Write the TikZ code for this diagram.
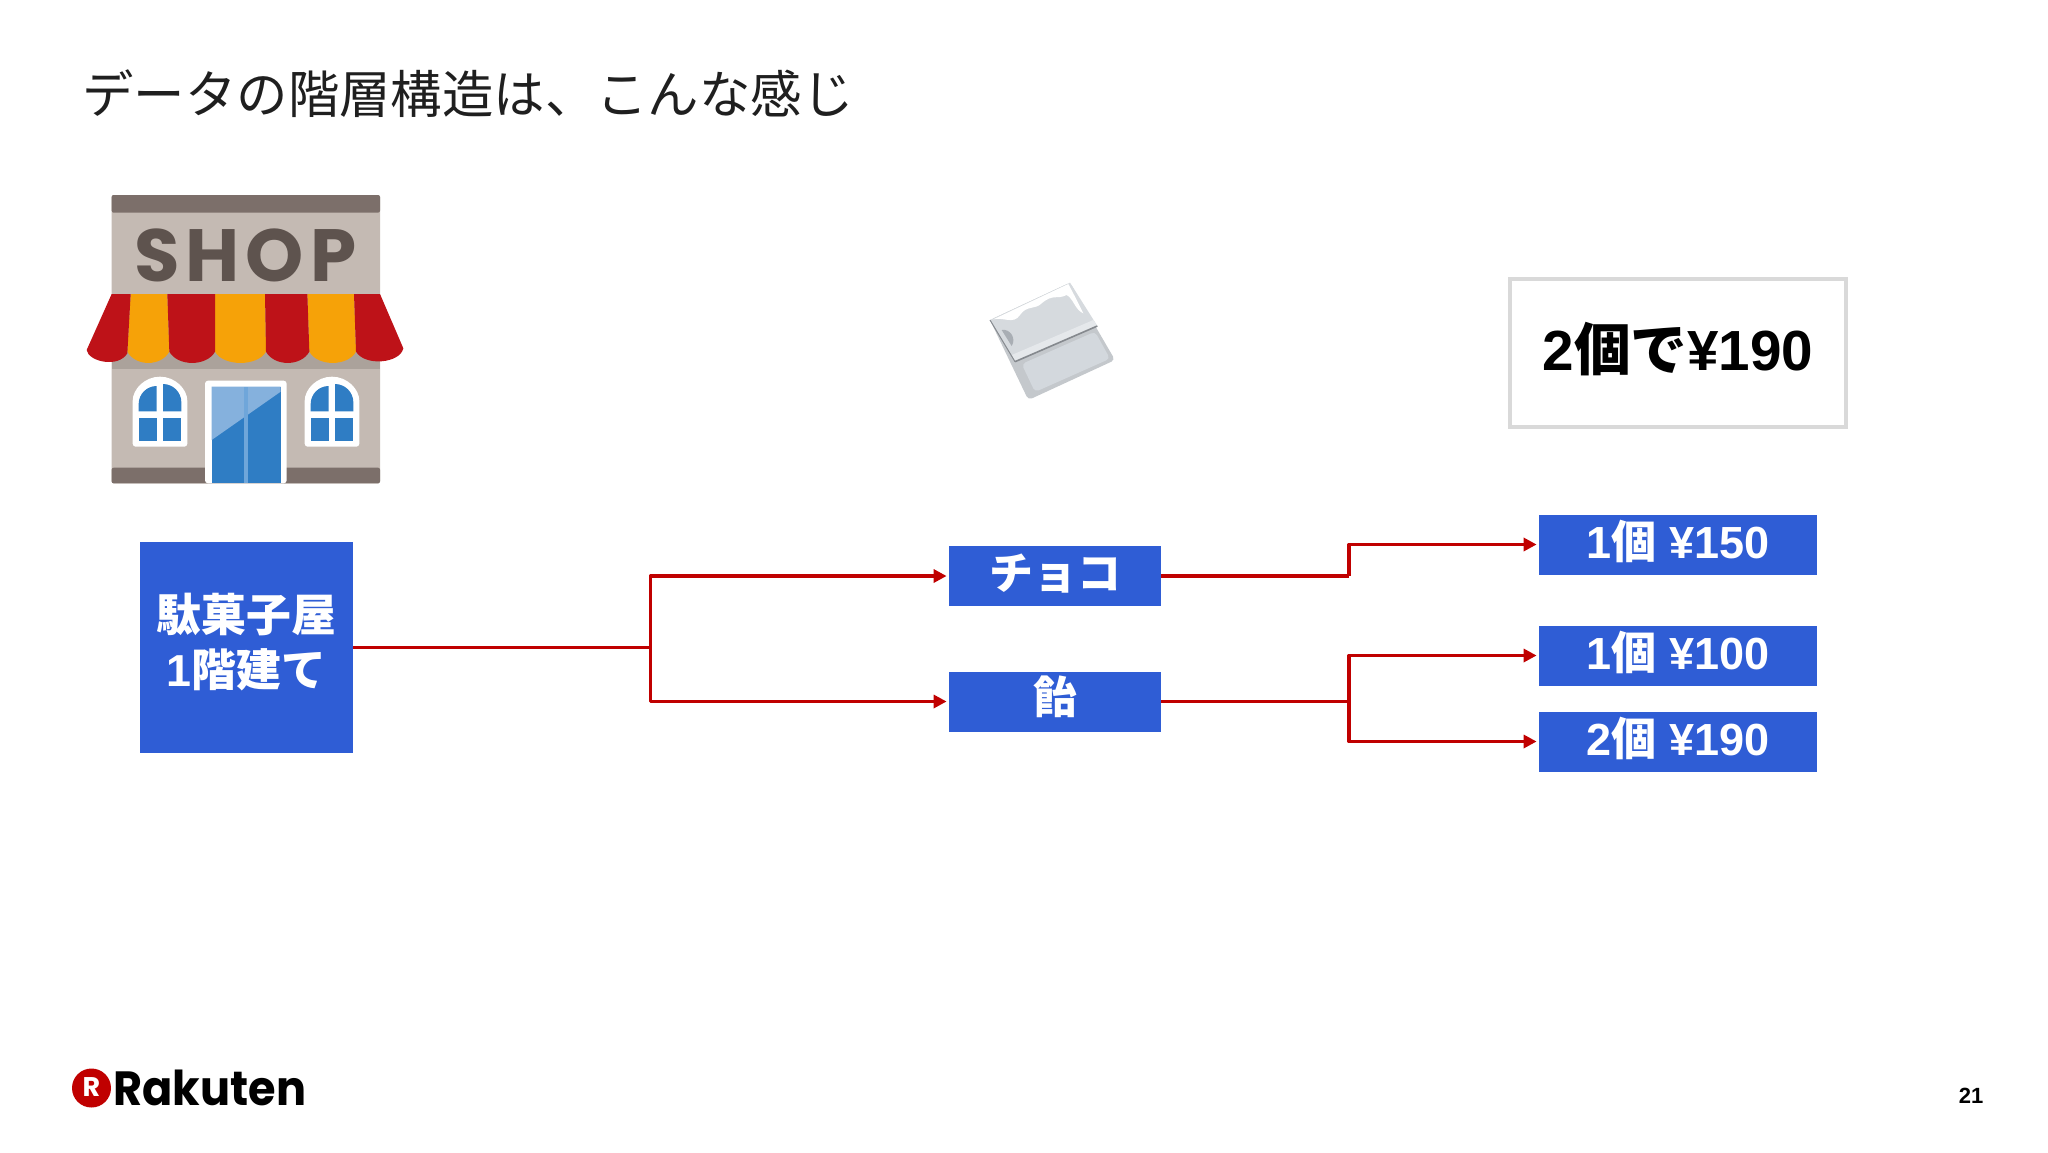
\documentclass[tikz,border=0pt]{standalone}
\usepackage{fontspec}
\usepackage{graphicx}
\usetikzlibrary{arrows.meta}
\newfontfamily\jp{Noto Sans CJK JP}
\newfontfamily\lat{Liberation Sans}
\newfontfamily\pop{Poppins}
\newfontfamily\popsp{Poppins}[LetterSpace=8]
\definecolor{boxblue}{HTML}{2F5DD5}
\definecolor{linered}{HTML}{C00000}
\definecolor{wallc}{HTML}{C4BAB3}
\definecolor{bandc}{HTML}{7C6F6A}
\definecolor{shoptxt}{HTML}{5E534E}
\definecolor{shadowc}{HTML}{ABA29B}
\definecolor{shopred}{HTML}{BE1218}
\definecolor{shopor}{HTML}{F6A208}
\definecolor{glassd}{HTML}{2F7DC4}
\definecolor{glassl}{HTML}{85B1DD}
\definecolor{glassm}{HTML}{6FA6DA}
\definecolor{candyedge}{HTML}{C4C8CC}
\definecolor{candyup}{HTML}{D6DADE}
\definecolor{candylow}{HTML}{D3D8DD}
\definecolor{candyin}{HTML}{A9AEB4}
\definecolor{candydark}{HTML}{85898E}
\newcommand{\stripe}[5]{\fill[#1] (#2,372) -- (#4,545) .. controls +(25,45) and +(-25,45) .. (#5,545) -- (#3,372) -- cycle;}
\newcommand{\shopwin}[1]{%
  \begin{scope}[xshift=#1*0.16667pt]
  \fill[white,rounded corners=1.5pt] (218,702) arc[start angle=180,end angle=360,radius=82] -- (382,830) -- (218,830) -- cycle;
  \fill[glassd] (236,702) arc[start angle=180,end angle=270,radius=54] -- (290,724) -- (236,724) -- cycle;
  \fill[glassd] (309,642) arc[start angle=270,end angle=360,radius=55] -- (364,724) -- (309,724) -- cycle;
  \fill[glassd] (236,743) rectangle (290,812);
  \fill[glassd] (309,743) rectangle (364,812);
  \end{scope}}
\tikzset{
  bluebox/.style={fill=boxblue,text=white,inner sep=0pt,align=center,font=\lat\bfseries},
  conn/.style={draw=linered,line width=1.9pt,line join=round},
  arr/.style={conn,-{Triangle[length=6.5pt,width=6.5pt]},shorten >=1pt},
}
\begin{document}
\begin{tikzpicture}[x=0.5pt,y=-0.5pt]
\useasboundingbox (0,0) rectangle (2048,1152);
\fill[white] (0,0) rectangle (2048,1152);

\node[anchor=west,inner sep=0pt,text=black!88,font=\jp\fontsize{25.7pt}{30pt}\selectfont] (title) at (82,94) {データの階層構造は、こんな感じ};

% shop illustration
\begin{scope}[shift={(30pt,-85pt)},x=0.16667pt,y=-0.16667pt]
  \fill[wallc,rounded corners=1pt] (155,75) rectangle (960,940);
  \fill[bandc,rounded corners=1pt] (155,75) rectangle (960,128);
  \fill[bandc,rounded corners=1pt] (155,893) rectangle (960,940);
  \fill[shadowc] (155,540) rectangle (960,598);
  \node[text=shoptxt,inner sep=0pt,font=\popsp\bfseries\fontsize{37pt}{41pt}\selectfont] (shoptext) at (556,256) {SHOP};
  \stripe{shopor}{212}{322}{202}{328}
  \stripe{shopor}{465}{615}{465}{618}
  \stripe{shopor}{742}{882}{748}{888}
  \fill[shopred] (155,372) -- (80,540) .. controls (85,575) and (175,595) .. (202,550) -- (212,372) -- cycle;
  \stripe{shopred}{322}{465}{328}{465}
  \stripe{shopred}{615}{742}{618}{748}
  \fill[shopred] (882,372) -- (888,545) .. controls (915,590) and (1020,580) .. (1030,535) -- (960,372) -- cycle;
  \shopwin{0}
  \shopwin{516}
  \fill[white,rounded corners=1.5pt] (435,940) -- (435,632) -- (680,632) -- (680,940) -- cycle;
  \fill[glassd] (455,650) rectangle (662,940);
  \fill[glassl] (455,650) -- (662,650) -- (662,665) -- (455,810) -- cycle;
  \fill[glassm] (552,650) rectangle (565,940);
\end{scope}

% candy illustration
\begin{scope}[shift={(480pt,-130pt)},x=0.16667pt,y=-0.16667pt]
  \fill[rounded corners=2pt,fill=candyedge] (90,180) -- (330,68) -- (465,300) -- (205,420) -- cycle;
  \fill[fill=candylow,rounded corners=2pt] (185,312) -- (405,215) -- (450,296) -- (225,396) -- cycle;
  \fill[fill=candyup] (90,180) -- (330,68) -- (412,198) -- (165,305) -- cycle;
  \fill[fill=white] (100,178) -- (325,72) -- (345,110) -- (370,160) .. controls (345,150) and (340,115) .. (320,105) .. controls (290,120) and (280,100) .. (245,130) .. controls (225,150) and (200,135) .. (180,165) .. controls (160,195) and (130,170) .. (100,178) -- cycle;
  \fill[fill=candyin] (125,210) .. controls (150,205) and (170,235) .. (155,258) -- cycle;
  \fill[fill=candylow!60!white] (155,285) -- (400,180) -- (412,198) -- (165,305) -- cycle;
  \draw[draw=candydark,line width=0.8pt] (165,305) -- (412,198);
  \draw[draw=candydark,line width=0.5pt] (90,180) -- (165,305);
\end{scope}

% diagram boxes
\node[bluebox,minimum width=106.25pt,minimum height=105.5pt,font=\jp\bfseries\fontsize{22.4pt}{27.5pt}\selectfont] (shop) at (246.5,647.5) {\raisebox{4pt}{駄菓子屋}\\\raisebox{4pt}{{\lat\bfseries 1}階建て}\rule[-4pt]{0pt}{1pt}};
\node[bluebox,minimum width=106pt,minimum height=30pt,font=\jp\bfseries\fontsize{22pt}{26pt}\selectfont] (choco) at (1055,576) {\raisebox{4.6pt}{チョコ}};
\node[bluebox,minimum width=106pt,minimum height=30pt,font=\jp\bfseries\fontsize{22pt}{26pt}\selectfont] (candy) at (1055,701.5) {\raisebox{7pt}{飴}};
\node[bluebox,minimum width=139pt,minimum height=30pt,font=\lat\bfseries\fontsize{22.5pt}{26pt}\selectfont] (p1) at (1678,544.5) {\raisebox{5.6pt}{1{\jp\bfseries 個} ¥150}};
\node[bluebox,minimum width=139pt,minimum height=30pt,font=\lat\bfseries\fontsize{22.5pt}{26pt}\selectfont] (p2) at (1678,655.5) {\raisebox{5.6pt}{1{\jp\bfseries 個} ¥100}};
\node[bluebox,minimum width=139pt,minimum height=30pt,font=\lat\bfseries\fontsize{22.5pt}{26pt}\selectfont] (p3) at (1678,741.5) {\raisebox{5.6pt}{2{\jp\bfseries 個} ¥190}};
\node[draw=black!15,line width=2pt,fill=white,minimum width=168pt,minimum height=74pt,inner sep=0pt,text=black,font=\lat\bfseries\fontsize{28.3pt}{32pt}\selectfont] (note) at (1678,353) {\raisebox{6.6pt}{2{\jp\bfseries 個で}¥190}};

% connectors
\coordinate (j1) at (650.5,647.5);
\coordinate (j2) at (1349,576);
\coordinate (j3) at (1349,701.5);
\draw[conn] (shop.east) -- (j1);
\draw[arr] (j1) |- (choco.west);
\draw[arr] (j1) |- (candy.west);
\draw[conn] (choco.east) -- (j2);
\draw[arr] (j2) |- (p1.west);
\draw[conn] (candy.east) -- (j3);
\draw[arr] (j3) |- (p2.west);
\draw[arr] (j3) |- (p3.west);

% logo
\fill[linered] (91.5,1088) circle[radius=19.5];
\node[text=white,inner sep=0pt,font=\pop\bfseries\fontsize{13.5pt}{15pt}\selectfont] (logor) at (91.5,1087.5) {R};
\node[anchor=west,inner sep=0pt,text=black,font=\pop\bfseries\fontsize{24pt}{28pt}\selectfont] (logo) at (113,1088) {\scalebox{0.93}[1]{Rakuten}};

\node[inner sep=0pt,text=black,font=\lat\bfseries\fontsize{11pt}{13pt}\selectfont] (pageno) at (1971,1096) {21};
\end{tikzpicture}
\end{document}
